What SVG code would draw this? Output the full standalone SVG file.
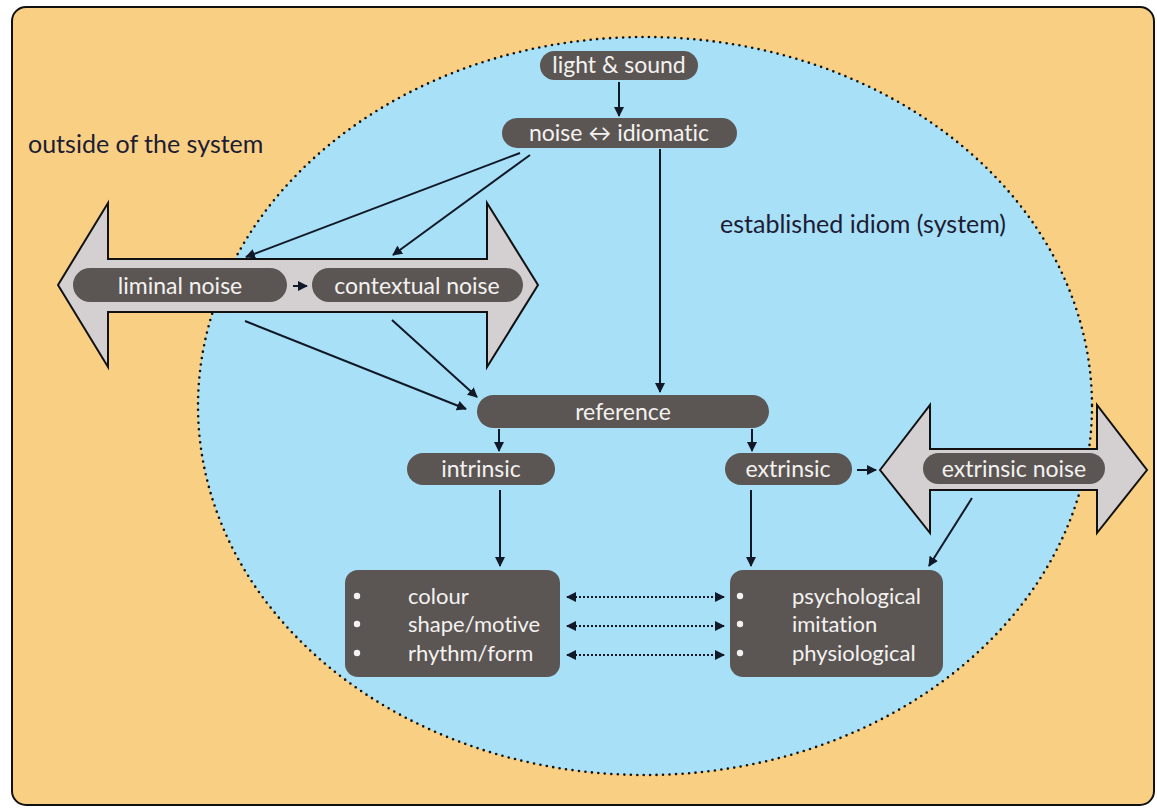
<svg xmlns="http://www.w3.org/2000/svg" width="1157" height="808" viewBox="0 0 1157 808">
<defs>
<marker id="ah" viewBox="0 0 10 10" refX="9" refY="5" markerWidth="5" markerHeight="5" orient="auto-start-reverse" markerUnits="strokeWidth">
<path d="M0,0 L10,5 L0,10 z" fill="#111827"/>
</marker>
<style>
.pill{fill:#5b5654;}
text{font-variant-ligatures:none;}
.nt{font-family:Lato,"Open Sans",sans-serif;font-size:23px;fill:#f4f2f0;text-anchor:middle;}
.lt{font-family:Lato,"Open Sans",sans-serif;font-size:22px;fill:#f4f2f0;}
.lab{font-family:Lato,"Open Sans",sans-serif;font-size:25px;fill:#1c1c34;}
.big{fill:#d4d0d1;stroke:#111;stroke-width:2;stroke-linejoin:miter;}
.ln{stroke:#111827;stroke-width:2;fill:none;marker-end:url(#ah);}
.dl{stroke:#111827;stroke-width:2;fill:none;stroke-dasharray:2 2;marker-start:url(#ah);marker-end:url(#ah);}
.bul{fill:#f4f2f0;}
</style>
</defs>
<g id="background">
<rect x="12" y="7" width="1142" height="798" rx="14" fill="#f9cf84" stroke="#111" stroke-width="2"/>
<ellipse cx="645" cy="406" rx="447" ry="369" fill="#a8e0f7" stroke="#111" stroke-width="2.6" stroke-dasharray="0 6.5" stroke-linecap="round"/>
<text class="lab" x="28" y="153">outside of the system</text>
<text class="lab" x="720" y="233">established idiom (system)</text>
</g>
<g id="liminal-arrow">
<polygon class="big" points="58,285 108,203 108,259 487,259 487,203 538,285 487,367 487,312 108,312 108,367"/>
</g>
<g id="extrinsic-arrow">
<polygon class="big" points="880,470 930,405 930,449 1097,449 1097,405 1147,470 1097,533 1097,490 930,490 930,533"/>
</g>
<g id="connectors">
<line class="ln" x1="619" y1="82" x2="619" y2="116"/>
<line class="ln" x1="520" y1="153" x2="246" y2="257"/>
<line class="ln" x1="530" y1="155" x2="393" y2="255"/>
<line class="ln" x1="660" y1="149" x2="660" y2="392"/>
<line class="ln" x1="293" y1="286" x2="307" y2="286"/>
<line class="ln" x1="245" y1="321" x2="466" y2="409"/>
<line class="ln" x1="392" y1="320" x2="477" y2="397"/>
<line class="ln" x1="499" y1="429" x2="499" y2="451"/>
<line class="ln" x1="752" y1="429" x2="752" y2="451"/>
<line class="ln" x1="857" y1="470" x2="876" y2="470"/>
<line class="ln" x1="500" y1="490" x2="500" y2="566"/>
<line class="ln" x1="751" y1="490" x2="751" y2="566"/>
<line class="ln" x1="972" y1="498" x2="929" y2="566"/>
<line class="dl" x1="567" y1="597" x2="724" y2="597"/>
<line class="dl" x1="567" y1="626" x2="724" y2="626"/>
<line class="dl" x1="567" y1="655" x2="724" y2="655"/>
</g>
<g id="light-sound">
<rect class="pill" x="540" y="51" width="158" height="29" rx="14.5"/>
<text class="nt" x="619" y="73">light &amp; sound</text>
</g>
<g id="noise-idiomatic">
<rect class="pill" x="502" y="118" width="235" height="30" rx="15"/>
<text class="nt" x="619" y="141">noise ↔ idiomatic</text>
</g>
<g id="liminal-noise">
<rect class="pill" x="73" y="268" width="214" height="34" rx="17"/>
<text class="nt" x="180" y="294">liminal noise</text>
</g>
<g id="contextual-noise">
<rect class="pill" x="312" y="268" width="211" height="34" rx="17"/>
<text class="nt" x="417" y="294">contextual noise</text>
</g>
<g id="reference">
<rect class="pill" x="477" y="395" width="292" height="33" rx="16.5"/>
<text class="nt" x="623" y="420">reference</text>
</g>
<g id="intrinsic">
<rect class="pill" x="407" y="453" width="148" height="32" rx="16"/>
<text class="nt" x="481" y="477">intrinsic</text>
</g>
<g id="extrinsic">
<rect class="pill" x="725" y="453" width="127" height="32" rx="16"/>
<text class="nt" x="788" y="477">extrinsic</text>
</g>
<g id="extrinsic-noise">
<rect class="pill" x="923" y="453" width="182" height="31" rx="15.5"/>
<text class="nt" x="1014" y="477">extrinsic noise</text>
</g>
<g id="intrinsic-list">
<rect class="pill" x="345" y="570" width="215" height="107" rx="13"/>
<circle class="bul" cx="357" cy="596" r="3.2"/>
<circle class="bul" cx="357" cy="624" r="3.2"/>
<circle class="bul" cx="357" cy="653" r="3.2"/>
<text class="lt" x="408" y="604">colour</text>
<text class="lt" x="408" y="632">shape/motive</text>
<text class="lt" x="408" y="661">rhythm/form</text>
</g>
<g id="extrinsic-list">
<rect class="pill" x="730" y="570" width="213" height="107" rx="13"/>
<circle class="bul" cx="740" cy="596" r="3.2"/>
<circle class="bul" cx="740" cy="624" r="3.2"/>
<circle class="bul" cx="740" cy="653" r="3.2"/>
<text class="lt" x="792" y="604">psychological</text>
<text class="lt" x="792" y="632">imitation</text>
<text class="lt" x="792" y="661">physiological</text>
</g>
</svg>
